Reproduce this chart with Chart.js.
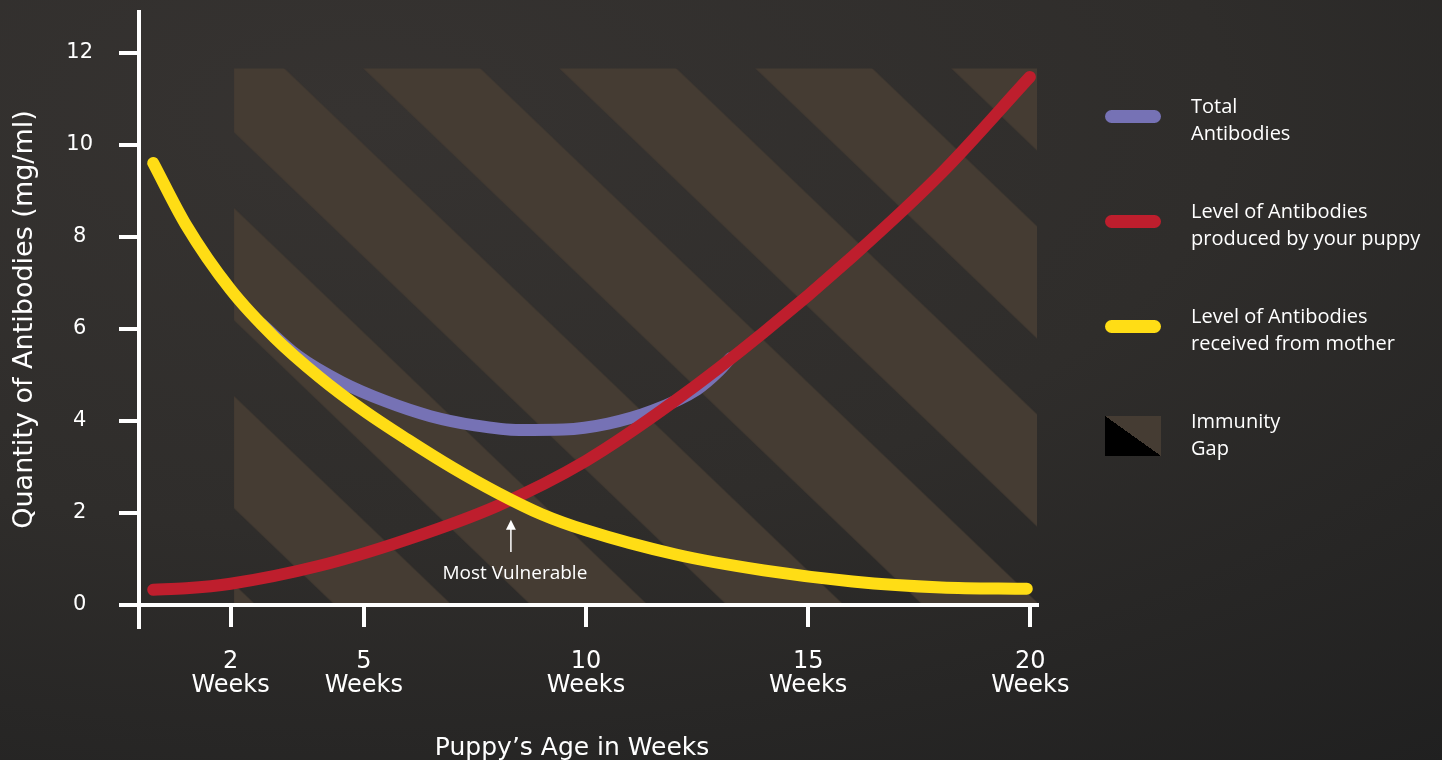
<!DOCTYPE html>
<html>
<head>
<meta charset="utf-8">
<script src="https://cdn.jsdelivr.net/npm/chart.js@4.4.0/dist/chart.umd.min.js"></script>
<style>
  html, body { margin: 0; padding: 0; width: 1442px; height: 760px; overflow: hidden; }
  body {
    background: radial-gradient(ellipse 120% 110% at 25% 15%, #363331 0%, #2f2d2b 50%, #202020 100%);
    font-family: 'Open Sans', sans-serif;
  }
  #chart { position: absolute; left: 0; top: 0; }
  #legend { position: absolute; left: 1105px; top: 92px; color: #fff; font-size: 20px; line-height: 27px; }
  .item { display: flex; align-items: center; height: 54px; margin-bottom: 51px; }
  .sw { width: 56px; height: 13px; border-radius: 7px; margin-right: 30px; margin-top: -6px; flex: none; }
  .sw.gap { height: 40px; border-radius: 0; margin-top: 4px;
    background: linear-gradient(to top right, #000 50%, #453c33 50%); }
</style>
</head>
<body>
<canvas id="chart" width="1442" height="760"></canvas>
<div id="legend"></div>
<script>
// x = weeks, y = mg/ml
const weekTicks = [2, 5, 10, 15, 20];
const qtyTicks = [0, 2, 4, 6, 8, 10, 12];

const motherX = [0.26, 1, 2, 3, 4, 5, 6, 7, 8, 9, 10, 12, 14, 16, 18, 19.92];
const motherY = [9.60, 8.25, 6.85, 5.80, 4.95, 4.22, 3.58, 2.98, 2.44, 1.97, 1.62, 1.10, 0.75, 0.51, 0.38, 0.35];

const puppyX = [0.26, 1, 2, 4, 6, 8, 10, 12, 14, 16, 18, 19.99];
const puppyY = [0.33, 0.36, 0.46, 0.85, 1.43, 2.15, 3.13, 4.43, 5.92, 7.57, 9.38, 11.47];

const totalX = [2.7, 3.5, 4.5, 5.5, 6.5, 7.5, 8.5, 9.5, 10.5, 11.5, 12.5, 13.0, 13.25];
const totalY = [6.10, 5.42, 4.84, 4.42, 4.10, 3.90, 3.80, 3.81, 3.94, 4.22, 4.68, 5.09, 5.36];

const gapX = [2.08, 20.15];
const gapY = [11.65, 11.65];

const vulnerable = { x: 8.31, tip: 1.85, base: 1.15, text: 0.67, label: 'Most Vulnerable' };

const legendLines = [
  ['Total', 'Antibodies'],
  ['Level of Antibodies', 'produced by your puppy'],
  ['Level of Antibodies', 'received from mother'],
  ['Immunity', 'Gap']
];
const colors = ['#7672b5', '#be1e2d', '#ffdd15'];

function pts(xs, ys) { return xs.map((x, i) => ({ x: x, y: ys[i] })); }

function stripes(chart) {
  if (!chart.chartArea) return '#453c33';
  const x0 = chart.scales.x.getPixelForValue(gapX[0]);
  const y0 = chart.scales.y.getPixelForValue(gapY[0]);
  const w = 196, h = 188, band = 117, shift = 129.5;
  const c = document.createElement('canvas');
  c.width = w; c.height = h;
  const g = c.getContext('2d');
  g.fillStyle = '#453c33';
  for (let k = -2; k <= 2; k++) {
    const u = shift + k * w;
    g.beginPath();
    g.moveTo(u, 0); g.lineTo(u + band, 0);
    g.lineTo(u + band + w, h); g.lineTo(u + w, h);
    g.closePath(); g.fill();
  }
  const p = chart.ctx.createPattern(c, 'repeat');
  p.setTransform(new DOMMatrix().translate(x0, y0));
  return p;
}

const line = (label, color, xs, ys, order) => ({
  label: label, data: pts(xs, ys), borderColor: color, borderWidth: 12,
  borderCapStyle: 'round', borderJoinStyle: 'round', pointRadius: 0,
  cubicInterpolationMode: 'monotone', fill: false, order: order
});

const arrowPlugin = {
  id: 'mostVulnerable',
  afterDatasetsDraw(chart) {
    const { ctx, scales } = chart;
    const x = scales.x.getPixelForValue(vulnerable.x);
    const yt = scales.y.getPixelForValue(vulnerable.tip);
    const yb = scales.y.getPixelForValue(vulnerable.base);
    ctx.save();
    ctx.strokeStyle = '#fff';
    ctx.fillStyle = '#fff';
    ctx.lineWidth = 1.5;
    ctx.beginPath(); ctx.moveTo(x, yb); ctx.lineTo(x, yt + 8); ctx.stroke();
    ctx.beginPath(); ctx.moveTo(x, yt); ctx.lineTo(x - 5, yt + 10); ctx.lineTo(x + 5, yt + 10); ctx.closePath(); ctx.fill();
    ctx.font = '19px "Open Sans"';
    ctx.textAlign = 'center';
    ctx.textBaseline = 'middle';
    ctx.fillText(vulnerable.label, x + 4, scales.y.getPixelForValue(vulnerable.text));
    ctx.restore();
  }
};

new Chart(document.getElementById('chart').getContext('2d'), {
  type: 'line',
  data: {
    datasets: [
      line('Level of Antibodies received from mother', colors[2], motherX, motherY, 1),
      line('Level of Antibodies produced by your puppy', colors[1], puppyX, puppyY, 2),
      line('Total Antibodies', colors[0], totalX, totalY, 3),
      {
        label: 'Immunity Gap', data: pts(gapX, gapY), borderWidth: 0, pointRadius: 0,
        fill: 'origin', backgroundColor: ctx => stripes(ctx.chart), order: 4
      }
    ]
  },
  options: {
    responsive: false,
    animation: false,
    events: [],
    layout: { padding: { left: 0, top: 12, right: 405, bottom: 133 } },
    plugins: { legend: { display: false }, tooltip: { enabled: false } },
    scales: {
      x: {
        type: 'linear', min: -0.06, max: 20.15,
        position: { y: 0 },
        afterBuildTicks: s => { s.ticks = weekTicks.map(v => ({ value: v })); },
        afterFit: s => { s.paddingLeft = 0; s.paddingRight = 0; },
        ticks: {
          color: '#fff', font: { family: 'DejaVu Sans', size: 24, lineHeight: 1.0 },
          padding: 25, maxRotation: 0, autoSkip: false,
          callback: v => [String(v), 'Weeks']
        },
        grid: { drawOnChartArea: false, color: '#fff', lineWidth: 4, tickLength: 20, z: 1 },
        border: { color: '#fff', width: 4, z: 1 },
        title: { display: true, text: 'Puppy’s Age in Weeks\u00a0\u00a0\u00a0\u00a0', color: '#fff',
          font: { family: 'DejaVu Sans', size: 25 }, padding: { top: 11 } }
      },
      y: {
        min: -0.48, max: 12.88,
        afterBuildTicks: s => { s.ticks = qtyTicks.map(v => ({ value: v })); },
        afterFit: s => { s.paddingTop = 0; s.paddingBottom = 0; s.width = 139; },
        ticks: { color: '#fff', font: { family: 'DejaVu Sans', size: 21 }, padding: 26, crossAlign: 'center' },
        grid: { drawOnChartArea: false, color: '#fff', lineWidth: 4, tickLength: 20, z: 1 },
        border: { color: '#fff', width: 4, z: 1 },
        title: { display: true, text: 'Quantity of Antibodies (mg/ml)', color: '#fff',
          font: { family: 'DejaVu Sans', size: 27 }, padding: { top: 9, bottom: 4 } }
      }
    }
  },
  plugins: [arrowPlugin]
});

// legend
const legend = document.getElementById('legend');
legendLines.forEach((lines, i) => {
  const item = document.createElement('div');
  item.className = 'item';
  const sw = document.createElement('div');
  sw.className = i < colors.length ? 'sw' : 'sw gap';
  if (i < colors.length) sw.style.background = colors[i];
  const txt = document.createElement('div');
  txt.innerHTML = lines.join('<br>');
  item.appendChild(sw);
  item.appendChild(txt);
  legend.appendChild(item);
});
</script>
</body>
</html>
